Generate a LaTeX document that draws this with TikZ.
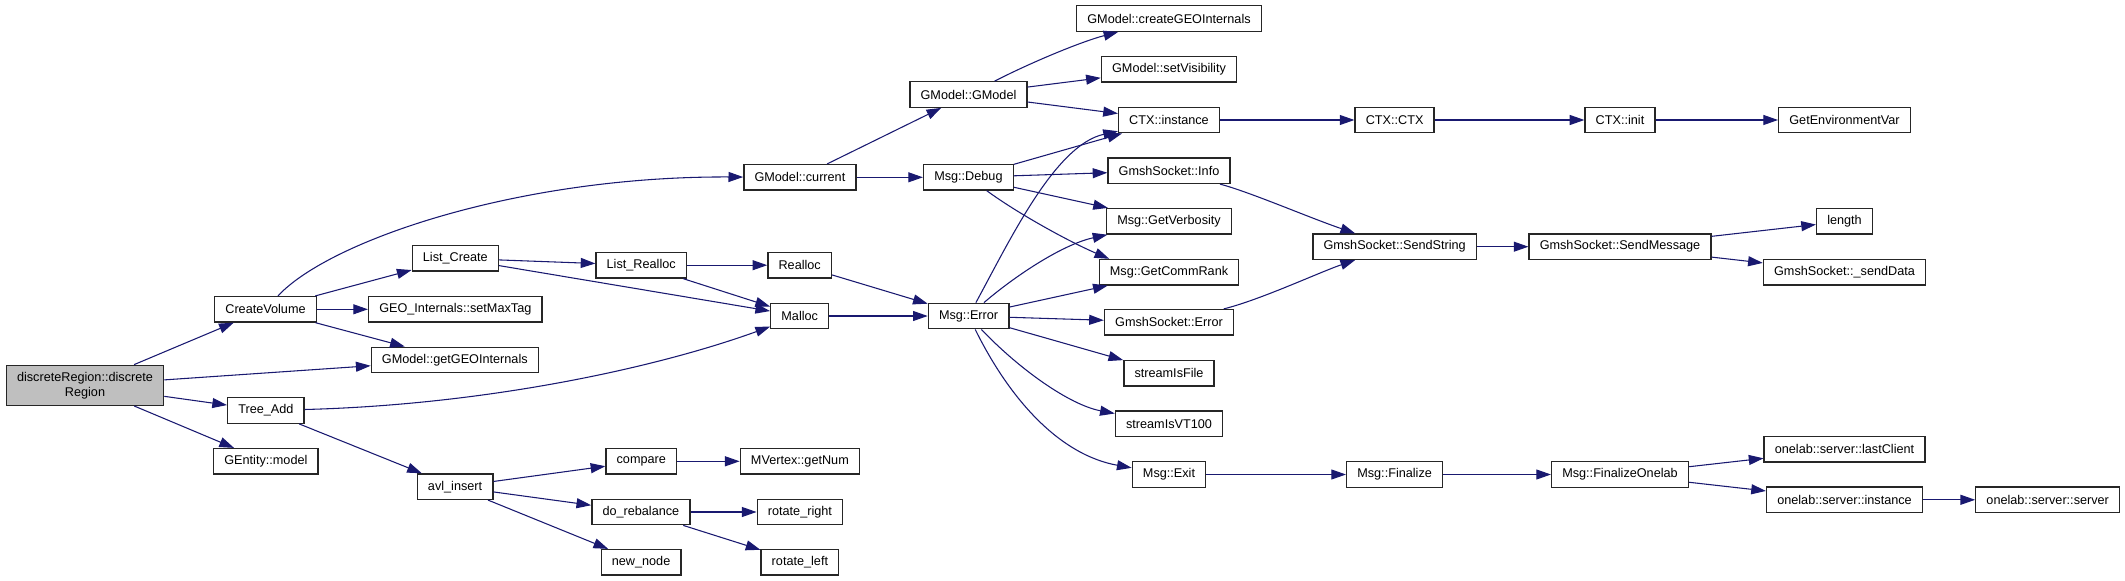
\documentclass[tikz,border=0pt]{standalone}
\usepackage{fontspec}
\setsansfont{Liberation Sans}
\usetikzlibrary{arrows.meta}
\definecolor{edgeblue}{RGB}{25,25,112}
\tikzset{fn/.style={draw=black!85, line width=1pt, fill=white, minimum height=19.1pt, inner xsep=8pt, inner ysep=0pt},
  root/.style={fn, fill=black!25, align=center, minimum height=30pt},
  call/.style={draw=edgeblue, line width=0.8pt, -{Triangle[length=11pt, width=7.5pt]}}}

\begin{document}
\begin{tikzpicture}[x=0.75pt, y=-0.75pt, font=\sffamily\fontsize{9.5}{11.25}\selectfont]
  \useasboundingbox (0,0) rectangle (2125,581);
  % caller
  \node[root] (dr) at (85,385.3) {discreteRegion::discrete\\Region};
  % first level
  \node[fn] (cv) at (265.5,309.3) {CreateVolume};
  \node[fn] (ta) at (265.9,410.5) {Tree\_Add};
  \node[fn] (gem) at (265.9,461.3) {GEntity::model};
  % second level
  \node[fn] (lc) at (455.3,258.3) {List\_Create};
  \node[fn] (smt) at (455.3,309.3) {GEO\_Internals::setMaxTag};
  \node[fn] (gg) at (454.8,360) {GModel::getGEOInternals};
  \node[fn] (avl) at (455.1,486.7) {avl\_insert};
  % third level
  \node[fn] (lr) at (641.2,265.2) {List\_Realloc};
  \node[fn] (cmp) at (641.3,461.3) {compare};
  \node[fn] (dreb) at (640.9,512) {do\_rebalance};
  \node[fn] (nn) at (641.1,562.3) {new\_node};
  % fourth level
  \node[fn] (gc) at (799.9,177.3) {GModel::current};
  \node[fn] (realloc) at (799.7,265.2) {Realloc};
  \node[fn] (malloc) at (799.7,316) {Malloc};
  \node[fn] (gnum) at (799.9,461.3) {MVertex::getNum};
  \node[fn] (rr) at (799.9,512) {rotate\_right};
  \node[fn] (rl) at (799.9,562.3) {rotate\_left};
  % fifth level
  \node[fn] (gm) at (968.5,94.5) {GModel::GModel};
  \node[fn] (dbg) at (968.4,177.3) {Msg::Debug};
  \node[fn] (err) at (968.6,316) {Msg::Error};
  % sixth level
  \node[fn] (cgi) at (1169,18.5) {GModel::createGEOInternals};
  \node[fn] (svis) at (1169,69.3) {GModel::setVisibility};
  \node[fn] (cti) at (1169,120) {CTX::instance};
  \node[fn] (info) at (1169,170.7) {GmshSocket::Info};
  \node[fn] (gvb) at (1169,221.3) {Msg::GetVerbosity};
  \node[fn] (gcr) at (1169,272.2) {Msg::GetCommRank};
  \node[fn] (gse) at (1169,322.3) {GmshSocket::Error};
  \node[fn] (sif) at (1169,373.2) {streamIsFile};
  \node[fn] (sivt) at (1169,423.8) {streamIsVT100};
  \node[fn] (mexit) at (1169,474.5) {Msg::Exit};
  % right part
  \node[fn] (cctx) at (1394.6,120) {CTX::CTX};
  \node[fn] (sstr) at (1394.6,246.7) {GmshSocket::SendString};
  \node[fn] (fin) at (1394.6,474.5) {Msg::Finalize};
  \node[fn] (cinit) at (1620,120) {CTX::init};
  \node[fn] (smsg) at (1620,246.7) {GmshSocket::SendMessage};
  \node[fn] (fone) at (1620,474.5) {Msg::FinalizeOnelab};
  \node[fn] (genv) at (1844.5,120) {GetEnvironmentVar};
  \node[fn] (len) at (1844.5,221.3) {length};
  \node[fn] (sdata) at (1844.5,272.2) {GmshSocket::\_sendData};
  \node[fn] (lcl) at (1844.5,449.2) {onelab::server::lastClient};
  \node[fn] (osi) at (1844.5,499.8) {onelab::server::instance};
  \node[fn] (oss) at (2047.7,499.8) {onelab::server::server};
  % calls from the left half
  \draw[call] (dr) -- (cv);
  \draw[call] (dr) -- (gg);
  \draw[call] (dr) -- (ta);
  \draw[call] (dr) -- (gem);
  \draw[call] (cv) .. controls (330,240) and (520,176) .. (gc);
  \draw[call] (cv) -- (lc);
  \draw[call] (cv) -- (smt);
  \draw[call] (cv) -- (gg);
  \draw[call] (lc) -- (lr);
  \draw[call] (lc) -- (malloc);
  \draw[call] (lr) -- (realloc);
  \draw[call] (lr) -- (malloc);
  \draw[call] (realloc) -- (err);
  \draw[call] (malloc) -- (err);
  \draw[call] (ta) .. controls (480,405) and (650,370) .. (malloc);
  \draw[call] (ta) -- (avl);
  \draw[call] (avl) -- (cmp);
  \draw[call] (avl) -- (dreb);
  \draw[call] (avl) -- (nn);
  \draw[call] (cmp) -- (gnum);
  \draw[call] (dreb) -- (rr);
  \draw[call] (dreb) -- (rl);
  % calls from the middle
  \draw[call] (gc) -- (gm);
  \draw[call] (gc) -- (dbg);
  \draw[call] (gm) .. controls (1030,63) and (1080,42) .. (cgi);
  \draw[call] (gm) -- (svis);
  \draw[call] (gm) -- (cti);
  \draw[call] (dbg) -- (cti);
  \draw[call] (dbg) -- (info);
  \draw[call] (dbg) -- (gvb);
  \draw[call] (dbg) .. controls (1020,215) and (1072,243) .. ([xshift=8pt]gcr.north west);
  \draw[call] (err) .. controls (1010,240) and (1055,145) .. (cti);
  \draw[call] (err) .. controls (1010,280) and (1060,245) .. (gvb);
  \draw[call] (err) -- (gcr);
  \draw[call] (err) -- (gse);
  \draw[call] (err) -- (sif);
  \draw[call] (err) .. controls (1020,370) and (1070,405) .. (sivt);
  \draw[call] (err) .. controls (1010,400) and (1060,455) .. (mexit);
  % calls on the right
  \draw[call] (cti) -- (cctx);
  \draw[call] (cctx) -- (cinit);
  \draw[call] (cinit) -- (genv);
  \draw[call] (info) .. controls (1250,192) and (1310,218) .. (sstr);
  \draw[call] (gse) .. controls (1260,300) and (1320,272) .. (sstr);
  \draw[call] (sstr) -- (smsg);
  \draw[call] (smsg) -- (len);
  \draw[call] (smsg) -- (sdata);
  \draw[call] (mexit) -- (fin);
  \draw[call] (fin) -- (fone);
  \draw[call] (fone) -- (lcl);
  \draw[call] (fone) -- (osi);
  \draw[call] (osi) -- (oss);
\end{tikzpicture}
\end{document}
